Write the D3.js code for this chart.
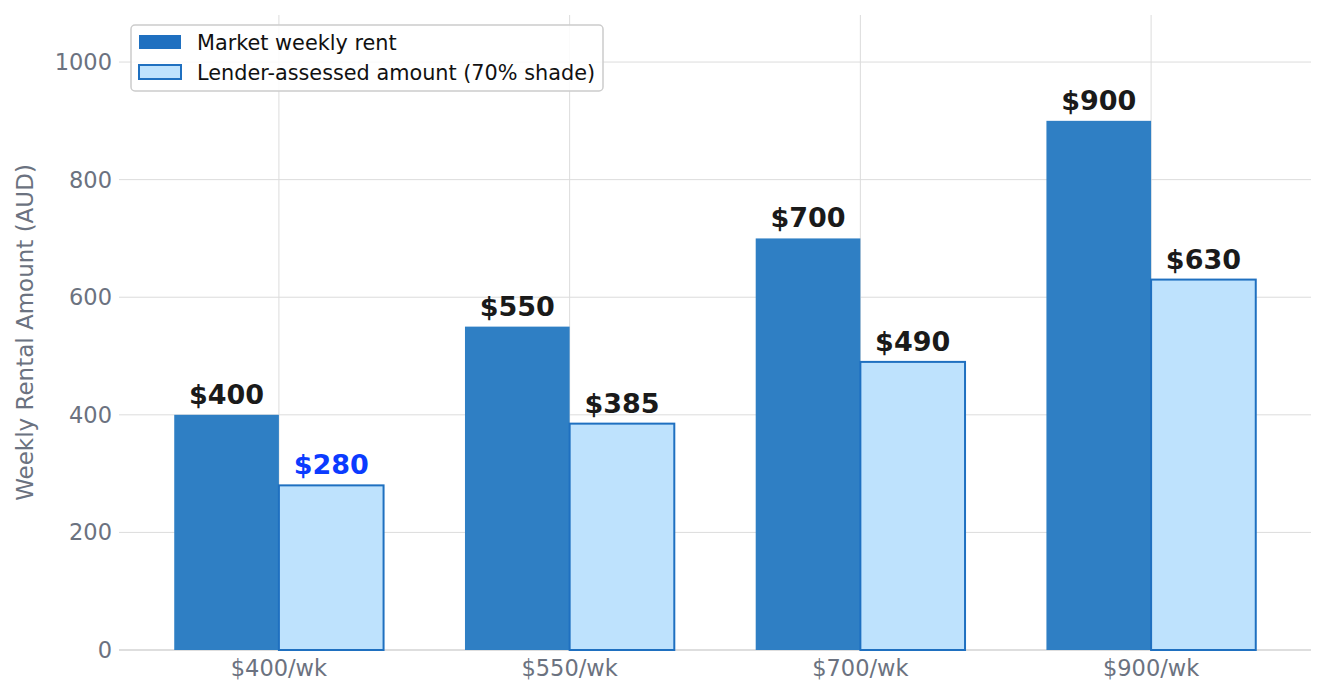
<!DOCTYPE html>
<html>
<head>
<meta charset="utf-8">
<script src="https://cdn.jsdelivr.net/npm/d3@7"></script>
<style>
  body { margin: 0; background: #fff; }
  text { font-family: "DejaVu Sans", sans-serif; }
</style>
</head>
<body>
<div id="chart"></div>
<script>
// chart data
var categories = ["$400/wk", "$550/wk", "$700/wk", "$900/wk"];
var marketRent = [400, 550, 700, 900];
var lenderAmount = [280, 385, 490, 630];
var yTicks = [0, 200, 400, 600, 800, 1000];
var seriesNames = ["Market weekly rent", "Lender-assessed amount (70% shade)"];

var W = 1325, H = 695,
    margin = {top: 15, right: 14, bottom: 45, left: 119},
    width = W - margin.left - margin.right,
    height = H - margin.top - margin.bottom;

var svg = d3.select("#chart").append("svg").attr("width", W).attr("height", H);
var g = svg.append("g").attr("transform", "translate(" + margin.left + "," + margin.top + ")");

var x = d3.scaleLinear().domain([-0.55, categories.length - 0.45]).range([0, width]);
var y = d3.scaleLinear().domain([0, 1080]).range([height, 0]);
var barW = 0.36;

// gridlines
g.append("g").selectAll("line").data(yTicks).join("line")
    .attr("x1", 0).attr("x2", width)
    .attr("y1", function(d) { return y(d); }).attr("y2", function(d) { return y(d); })
    .attr("stroke", "#dcdcdc").attr("stroke-width", 1);
g.append("g").selectAll("line").data(categories).join("line")
    .attr("x1", function(d, i) { return x(i); }).attr("x2", function(d, i) { return x(i); })
    .attr("y1", 0).attr("y2", height)
    .attr("stroke", "#dcdcdc").attr("stroke-width", 1);

// bottom spine
g.append("line").attr("x1", 0).attr("x2", width).attr("y1", height).attr("y2", height)
    .attr("stroke", "#d9d9d9").attr("stroke-width", 1.5);

// bars
g.append("g").selectAll("rect").data(marketRent).join("rect")
    .attr("x", function(d, i) { return x(i - barW); })
    .attr("width", x(barW) - x(0))
    .attr("y", function(d) { return y(d); })
    .attr("height", function(d) { return height - y(d); })
    .attr("fill", "#2f7fc4");

g.append("g").selectAll("rect").data(lenderAmount).join("rect")
    .attr("x", function(d, i) { return x(i); })
    .attr("width", x(barW) - x(0))
    .attr("y", function(d) { return y(d); })
    .attr("height", function(d) { return height - y(d); })
    .attr("fill", "#bee2fd").attr("stroke", "#1f70c0").attr("stroke-width", 2);

// value labels
g.append("g").selectAll("text").data(marketRent).join("text")
    .attr("x", function(d, i) { return x(i - barW / 2); })
    .attr("y", function(d) { return y(d) - 11; })
    .attr("text-anchor", "middle").attr("font-size", 27).attr("font-weight", "bold")
    .attr("fill", "#1a1a1a")
    .text(function(d) { return "$" + d; });

g.append("g").selectAll("text").data(lenderAmount).join("text")
    .attr("x", function(d, i) { return x(i + barW / 2); })
    .attr("y", function(d) { return y(d) - 11; })
    .attr("text-anchor", "middle").attr("font-size", 27).attr("font-weight", "bold")
    .attr("fill", function(d, i) { return i === 0 ? "#0b3bff" : "#1a1a1a"; })
    .text(function(d) { return "$" + d; });

// axes labels
g.append("g").selectAll("text").data(yTicks).join("text")
    .attr("x", -7).attr("y", function(d) { return y(d); })
    .attr("dy", "0.35em").attr("text-anchor", "end")
    .attr("font-size", 22.5).attr("fill", "#6b7280")
    .text(function(d) { return d; });

g.append("g").selectAll("text").data(categories).join("text")
    .attr("x", function(d, i) { return x(i); }).attr("y", height + 26)
    .attr("text-anchor", "middle")
    .attr("font-size", 22.5).attr("fill", "#6b7280")
    .text(function(d) { return d; });

svg.append("text")
    .attr("transform", "translate(33," + (margin.top + height / 2) + ") rotate(-90)")
    .attr("text-anchor", "middle").attr("font-size", 23).attr("fill", "#6b7280")
    .text("Weekly Rental Amount (AUD)");

// legend
var legend = svg.append("g").attr("transform", "translate(131,25)");
legend.append("rect").attr("width", 472).attr("height", 66).attr("rx", 4)
    .attr("fill", "#fff").attr("fill-opacity", 0.85).attr("stroke", "#cccccc").attr("stroke-width", 1.5);
legend.append("rect").attr("x", 8).attr("y", 10).attr("width", 42).attr("height", 14).attr("fill", "#1f70c0");
legend.append("rect").attr("x", 8).attr("y", 40).attr("width", 42).attr("height", 14)
    .attr("fill", "#bee2fd").attr("stroke", "#1f70c0").attr("stroke-width", 2);
legend.selectAll("text.lab").data(seriesNames).join("text")
    .attr("class", "lab")
    .attr("x", 66).attr("y", function(d, i) { return 18 + i * 30; })
    .attr("dy", "0.35em").attr("font-size", 20.8).attr("fill", "#111")
    .text(function(d) { return d; });
</script>
</body>
</html>
